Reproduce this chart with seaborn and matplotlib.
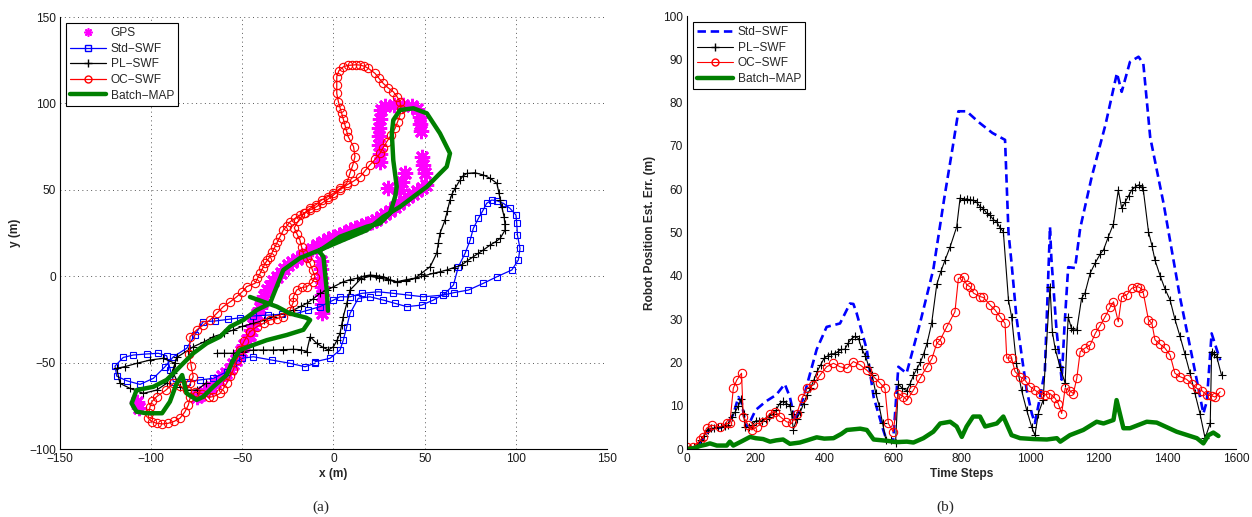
import matplotlib
matplotlib.use("Agg")
import matplotlib.pyplot as plt
from matplotlib.ticker import MultipleLocator
from matplotlib.lines import Line2D
import seaborn as sns

# ---------------- (a) trajectories ----------------
gps_x = [-75, -73, -71, -69, -67, -65, -63, -61, -59, -57, -55, -53.5, -52, -50.5, -49, -47.5, -46, -45, -44, -43,
         -42, -40.5, -39, -38, -36.6, -35, -33, -31, -29, -27, -25, -22.5, -20, -17.5, -15, -12, -9, -6, -3, 0,
         3, 6, 9, 12, 15, 18, 21, 23.5, 26, 28.5, 31, 33.5, 36, 38.5, 41, 43.5, 46, 48.5, 51,
         -7, -7, -7, -6.5, -6.5, -6.5, -6.5,
         26, 25.5, 25, 25, 25, 25.5, 25.5, 28, 33, 38, 43, 46, 47.5, 47.5, 48, 48.4, 49, 50, 39.2, 37.8, 36.5, 30,
         -108, -106.5]
gps_y = [-70, -68.5, -67, -65.5, -64, -62, -60, -58, -56, -53.5, -51, -48.5, -46, -43, -40, -37, -34, -31, -28, -25,
         -22, -18.5, -15, -11.5, -8, -5.5, -3, -0.5, 2, 4.2, 6.5, 8.3, 10, 11.5, 13, 15.5, 18, 19.8, 21.5, 22.8,
         24, 25.2, 26.5, 27.8, 29, 30.2, 31.5, 32.8, 34, 36, 38, 40, 42, 44, 46, 47.8, 49.5, 51.2, 53,
         9, 4, -1, -6, -11, -16, -21,
         96, 91, 86, 81, 76, 71, 66, 98.5, 99, 99, 98.5, 97, 92, 88, 84, 69, 64.5, 59.6, 59.5, 54.7, 49.9, 50.9,
         -73, -76]

std_x = [-10.1, -15.6, -23.8, -33.9, -44, -50, -55, -58.6, -65.9, -73.2, -80.5, -87.8, -89.5, -91.5, -96.1, -102.5,
         -109.8, -115.3, -119.8, -118.9, -113.4, -106.1, -98.8, -92.4, -87.8, -80.5, -76, -71.4, -65, -58, -51, -44,
         -36, -28, -20.2, -13.8, -7.4, 0, 3.6, 9.1, 15.5, 24.6, 32.8, 41.1, 49.3, 60.3, 66, 74, 82.2, 89.6, 97.8,
         101.4, 102.3, 100.9, 100.5, 100.1, 96.8, 93.2, 89.6, 86.8, 84, 81.9, 79.5, 76.7, 75, 72.2, 68.5, 65.8, 61.2,
         54.8, 48.4, 40.2, 33.8, 27.3, 20, 13.6, 9.1, 7.3, 5.4, 3.6, -1.9, -10.1]
std_y = [-50.4, -52.4, -50.4, -48.5, -46.6, -47.5, -50.4, -55.3, -59.1, -60, -61, -61, -54, -46, -44.6, -45,
         -45.6, -47, -52, -57.8, -60.5, -62.6, -59.1, -52.4, -46.6, -41.7, -34, -26.3, -25.9, -25, -24, -23,
         -22.5, -22, -21.5, -19.6, -17.6, -13.8, -11.9, -11.9, -9.9, -9, -9.9, -10.9, -11.9, -10.9, -9.5, -8, -4.1, -0.3, 3.6,
         9.4, 16.1, 23.8, 30.6, 35.4, 39.3, 42.2, 43.7, 44.1, 42.2, 37.9, 33.5, 27.7, 21, 13.3, 5.5, -5.1, -9.9,
         -13.8, -16.7, -17.6, -15.7, -13.8, -11.9, -12.8, -21.5, -29.2, -36.9, -42.7, -47.5, -49.5]

pl_x = [-70, -75, -80.5, -84.2, -87.8, -86.9, -93.3, -100.6, -107.9, -114.3, -118.9, -117.1, -111.6, -104.3, -97,
        -91.5, -88.5, -86, -80, -76.9, -71, -65.9, -60, -55, -50, -44, -38, -33, -27, -22, -18, -14.7, -11, -7.4,
        -3.5, 0, 5.4, 9, 12.8, 16.5, 20, 23.5, 27.3, 31, 34.7, 40, 44.7, 49.5, 54.8, 58.5, 62.1, 66, 70.3, 73.5,
        76.7, 79.5, 82.2, 85.9, 89, 91.4, 94.1, 94, 93.6, 92.3, 91.5, 90.8, 89.6, 85.9, 82.2, 77.6, 73.1, 71, 69.4,
        66.7, 65, 63.9, 62.5, 61.2, 58.4, 57.5, 56.6, 53, 48, 44.7, 40, 34.7, 30, 25, 20, 15, 9.1, 7.3, 5.4, 4.5,
        3.6, 2, 0, -2.8, -6, -9.2, -12.8, -14.7, -18, -22, -27.5, -33, -38.5, -44, -49.5, -55, -60, -64]
pl_y = [-62, -65.9, -65.9, -64, -56.2, -50.4, -47.5, -48.5, -50.4, -52.3, -53.3, -62, -64.9, -67.8, -65.9,
        -62, -56, -47, -43, -40.8, -38, -35, -33, -31.1, -29, -27.3, -25.5, -23.4, -21.5, -19.6, -17.5, -15.7, -13, -9.9,
        -8, -6.1, -3.2, -2, -1.2, 0, 0.7, 0.3, -0.3, -2, -3.2, -2, -1.2, 0.2, 1.7, 2.6, 3.6, 5, 6.5, 9,
        11.3, 13.3, 15.2, 18, 20, 21.9, 26.7, 30.5, 34.4, 40.2, 44, 48, 53.8, 56.7, 58.6, 59.9, 59.5, 58, 55.7,
        50.9, 47.5, 44.1, 38, 32.5, 24.8, 19, 13.3, 5.5, 1.5, -1.2, -2.5, -3.5, -2, -1, 0, -1.5, -8, -15.7, -23.4, -28,
        -33, -37, -40.8, -42.7, -41, -38.8, -35, -43.7, -42.5, -42.3, -42.5, -42.7, -42.7, -42.7, -43.6, -44.6, -44.6, -44.6]

oc_x = [-45.8, -42, -38, -34.8, -31, -27.5, -24, -22, -22, -20.2, -17, -14.7, -11.5, -10.1, -11.5, -12.9, -14.7,
        -16.5, -17.5, -18.4, -20, -21.5, -19.3, -16, -12.9, -9.5, -6.5, -3.2, 0, 3.6, 7.3, 9, 10.5, 11.8, 11, 8.1,
        7.2, 6.3, 5.4, 4.5, 3.6, 2.7, 1.8, 1.8, 1.8, 3, 5.4, 7.7, 10, 12.3, 14.6, 17, 19.1, 22.8, 25, 27.3, 30,
        32.8, 34.8, 36.5, 37, 36.5, 35.2, 33.8, 31.5, 29.2, 27.3, 25.5, 22.8, 20, 17.3, 14.6, 11, 7.3, 3.6, 0, -3.2,
        -6.5, -9.7, -12.9, -15.6, -18.4, -21.1, -23.8, -25.7, -27.5, -29.3, -30.7, -32.1, -33.5, -34.8, -36.2, -37.5,
        -38.9, -40.3, -41.7, -43, -47.6, -50, -53.1, -56.5, -60.4, -64, -67.7, -71.4, -75, -78.7, -79, -78, -76.9,
        -78.5, -80.5, -84, -87.8, -92, -97, -99.5, -100.6, -101.2, -101.6, -99.5, -97, -93.8, -90.6, -87.4, -84.2,
        -81.5, -79.6, -78.5, -76, -72, -68.5, -65.9, -62.2, -60.4, -58.6, -56.8, -55, -53.1, -51.3, -49, -45.8]
oc_y = [-32.1, -29.2, -27, -25.3, -24.5, -23.4, -20, -15, -11.9, -8, -6.5, -6.1, -3.5, -0.3, 3.5, 7.5, 10.5,
        13.3, 17, 21, 24.5, 28, 32, 36.5, 39.3, 41.5, 44.1, 46, 48, 50.8, 53.8, 59.5, 64, 69.2, 75, 80.7,
        84, 87.5, 91, 94.3, 97.5, 101, 105.8, 110.5, 115.5, 119, 121.2, 122, 122.2, 122.4, 122.2, 121.5, 120.3, 117.4, 114.5, 111.6, 109,
        106.8, 104, 101, 97, 93.3, 89.5, 85.6, 81.5, 77.8, 74.5, 71.1, 67.6, 64.4, 61, 57.6, 55, 52.8, 50, 47, 44.5,
        42.2, 40, 38.3, 36.5, 35.4, 33.5, 31.5, 29, 26.7, 22.9, 20, 17, 14, 11.3, 9.4, 7.4,
        4.5, 1.6, -1.2, -4.1, -6, -9, -11.9, -14.7, -17.6, -21.5, -25.3, -28.2, -31.1, -35, -45, -52, -58.2,
        -62, -65.9, -63.5, -62, -66, -69.7, -72.5, -75.5, -79, -82.2, -84.2, -85.1, -85.5, -85.1, -84, -82.2,
        -78.5, -74.5, -70, -67, -68, -70, -69.7, -67.8, -65, -62, -58, -54.3, -48.5, -42.7, -37.5, -32.1]

map_x = [-3, -3.7, -5.5, -8, 3.6, 18.3, 25.5, 31, 33.8, 34.7, 32.8, 32, 32.8, 36.5, 43.8, 51.2, 54.8, 58.4, 63.9,
         62.1, 58.4, 51.2, 43.8, 36.5, 27.3, 18.3, 5.4, -7.4, -18.4, -27.5, -34.8, -42.1, -49.4, -56.7, -62.2, -69.5,
         -76.9, -82.4, -86, -91.5, -98.8, -108, -110.7, -108, -102.5, -94, -89.7, -86, -83, -80.5, -75, -71.4, -66,
         -58.6, -55, -51.3, -44, -36.6, -25.6, -16.5, -12.8, -15, -24, -31, -45.8]
map_y = [-20, -8, 11.3, 14.5, 22.9, 28.7, 30.6, 36.4, 46, 51.8, 67.2, 82.7, 90.4, 96.2, 97.2, 94.3, 88.5, 82.7, 71.1,
         63.4, 59.5, 51.8, 46, 40.2, 34.4, 26.7, 21, 15.2, 10.5, 3.6, -15.7, -19.6, -25.3, -29.2, -35, -38.8,
         -44.6, -50.4, -54.3, -60, -64, -65.9, -73.6, -78.4, -79.3, -79.3, -72.6, -62, -57.2, -67.8, -71.6, -69.7, -64,
         -57.2, -48.5, -42.7, -39.8, -37, -34, -31, -25.3, -24, -21.5, -17.6, -12]

# ---------------- (b) error vs time ----------------
std_t = [0, 20, 40, 55, 70, 100, 120, 135, 150, 160, 172, 185, 200, 230, 260, 285, 300, 315, 340, 378, 407, 446,
         475, 485, 494, 524, 544, 572, 582, 601, 616, 640, 679, 718, 750, 775, 791, 815, 850, 890, 927, 937, 946, 960,
         976, 990, 1005, 1014, 1029, 1043, 1058, 1062, 1077, 1092, 1100, 1111, 1131, 1146, 1180, 1220, 1253, 1267,
         1291, 1316, 1330, 1350, 1389, 1437, 1476, 1505, 1515, 1529, 1554]
std_e = [0, 0.3, 1.5, 3.5, 4.5, 5, 6, 8, 12, 10.5, 5, 6.5, 9, 11, 12.5, 15, 12, 6.5, 12, 23, 28.2, 29,
         33.6, 33.5, 31.5, 23, 12, 4.4, 2, 2, 19, 17.5, 29, 41.5, 58, 70, 78, 78, 75.5, 73, 71.4, 50, 42.9, 30.6,
         21.3, 13.6, 8.2, 6, 12, 18, 51.3, 44, 27.5, 16, 28, 42, 41.8, 51, 63, 75, 86.8, 82.5,
         89.4, 90.6, 89, 72, 56.7, 35, 19.8, 8.2, 11, 26.7, 20.5]

pl_t = [0, 10, 20, 30, 40, 50, 60, 70, 80, 90, 100, 110, 120, 130, 140, 150, 158, 165, 170, 180, 190, 200, 210, 220,
        230, 240, 250, 260, 270, 280, 290, 300, 305, 310, 320, 330, 340, 350, 360, 370, 380, 390, 400, 410, 420, 430,
        440, 450, 460, 470, 480, 490, 500, 510, 520, 530, 540, 550, 560, 570, 580, 595, 608, 616, 628, 640, 650, 660,
        670, 680, 690, 700, 713, 728, 740, 752, 767, 786, 796, 806, 815, 825, 834, 844, 854, 864, 873, 883, 893, 903,
        913, 922, 937, 946, 960, 975, 990, 1005, 1014, 1024, 1038, 1058, 1065, 1073, 1087, 1102, 1111, 1120, 1126,
        1136, 1150, 1160, 1175, 1190, 1204, 1214, 1228, 1243, 1257, 1267, 1277, 1287, 1296, 1306, 1316, 1325, 1330,
        1345, 1355, 1364, 1379, 1393, 1408, 1422, 1437, 1451, 1466, 1480, 1495, 1510, 1525, 1529, 1537, 1544, 1558]
pl_e = [0, 0.3, 0.5, 0.8, 2, 3, 4.5, 4.8, 4.8, 5, 5, 5.2, 5.5, 7.5, 8.5, 10, 11.5, 8, 5, 5, 5.5, 6.5, 6.5, 6.5,
        7, 7.5, 8, 9, 10.5, 11, 10.5, 10, 8, 4.5, 7, 8.5, 10.5, 12.5, 14, 16, 18, 19.5, 21, 21.5, 22, 22,
        22.5, 23, 23, 24.5, 25.5, 26, 25.5, 23, 21.5, 19, 17, 13, 10, 6, 2, 2, 1.5, 15, 14, 13.5, 15, 17,
        18.5, 20, 22, 24.5, 29, 38, 41, 43.6, 46.7, 51.3, 58, 57.5, 57.8, 57.5, 57.5, 57, 56, 55.5, 54.5, 54, 53, 52.4,
        51, 50.2, 34.4, 30.6, 19.8, 13.6, 9, 5, 3.2, 8.2, 11.3, 37.5, 27, 23.2, 19, 15.2, 30.5, 28, 27.5,
        27.5, 34.8, 36, 40.6, 43, 45, 46, 49, 52, 59.8, 55.6, 57, 58.5, 59.8, 60.5, 61, 60.5, 59.8,
        50.2, 47, 43.6, 40, 37, 34.4, 30, 26, 22, 17.5, 13, 8.2, 2.5, 6, 22.5, 22, 21.3, 17]

oc_t = [0, 19, 38, 47, 57, 72, 96, 116, 125, 135, 145, 159, 164, 179, 189, 203, 222, 242, 257, 271, 290, 305, 320,
        335, 349, 368, 388, 407, 427, 446, 466, 485, 505, 524, 544, 563, 577, 587, 601, 616, 631, 641, 660, 679, 699,
        714, 728, 738, 757, 781, 791, 806, 815, 825, 835, 854, 864, 883, 898, 912, 927, 932, 946, 956, 971, 985,
        1000, 1014, 1029, 1043, 1058, 1073, 1082, 1092, 1102, 1117, 1126, 1136, 1146, 1160, 1175, 1190, 1204, 1219,
        1233, 1243, 1257, 1267, 1282, 1296, 1311, 1320, 1330, 1345, 1355, 1364, 1379, 1393, 1408, 1422, 1437, 1456,
        1471, 1486, 1500, 1515, 1529, 1539, 1554]
oc_e = [0.5, 0.5, 2, 2.8, 4.8, 5.5, 5.1, 5.9, 5.9, 14, 15.9, 17.5, 7.5, 5.5, 4.4, 5.1, 6.3, 8.2, 8.6, 7.5, 6.3, 5.9, 8.2,
        11.7, 14, 14.8, 17.1, 19, 19.8, 19, 18.6, 20.2, 19.4, 18.2, 16.7, 15.2, 14, 5.9, 4, 12.8, 12.1, 11.3, 13.6, 16.3, 19,
        20.9, 24.4, 25.2, 28.2, 31.7, 39.4, 39.8, 37.9, 37.5, 36, 35.2, 35, 33.3, 32.1, 30.6, 29, 21, 21, 17.9, 16.7, 15.9,
        14.4, 13.6, 12.8, 12.5, 12.8, 11.7, 10.5, 8.2, 14, 13.4, 12.8, 16.3, 22.5, 23.3, 24, 26.7, 28.5, 30.6,
        32.7, 34, 29.4, 35.2, 35.6, 37.1, 37.5, 37.3, 36, 29.8, 29, 25.2, 24.2, 23.3, 21.7, 17.5, 16.7, 16.1,
        15, 14, 13.5, 12.5, 12.3, 12, 13.2]

map_t = [0, 20, 38, 55, 67, 87, 116, 125, 135, 160, 184, 200, 222, 242, 260, 280, 300, 329, 350, 378, 400, 427, 450,
         466, 505, 524, 544, 583, 610, 641, 660, 689, 718, 738, 767, 786, 801, 815, 834, 854, 869, 903, 922, 946, 971,
         1010, 1049, 1078, 1088, 1116, 1155, 1194, 1214, 1243, 1252, 1272, 1291, 1340, 1369, 1427, 1486, 1505, 1520,
         1534, 1549]
map_e = [0, 0.2, 0.7, 1, 1.3, 0.8, 0.8, 1.7, 0.8, 1.8, 2.8, 2.5, 2.3, 1.7, 2, 2.2, 1.2, 1.5, 2, 2.7, 2.4, 2.5, 3.5,
         4.4, 4.7, 4.4, 2.2, 1.9, 1.6, 1.7, 1.5, 2.5, 4, 5.9, 6.3, 5.2, 2.8, 5.2, 7.5, 7.5, 5.2, 5.9, 7.5, 3.2, 2.5,
         2.3, 2.2, 2.5, 1.7, 3.2, 4.4, 6.3, 5.9, 6.7, 11.3, 4.8, 4.8, 6.3, 6.1, 4, 2.5, 1.3, 3.2,
         3.8, 3]

labels_a = ["GPS", "Std\u2212SWF", "PL\u2212SWF", "OC\u2212SWF", "Batch\u2212MAP"]
labels_b = ["Std\u2212SWF", "PL\u2212SWF", "OC\u2212SWF", "Batch\u2212MAP"]

# ---------------- style ----------------
sns.set_style("white")
plt.rcParams["font.family"] = ["Liberation Sans", "DejaVu Sans"]
FS = 8.6
plt.rcParams["font.size"] = FS
plt.rcParams["xtick.direction"] = "in"
plt.rcParams["ytick.direction"] = "in"

BLUE = "#0000ff"
RED = "#ff0000"
GREEN = "#007f00"
MAG = "#ff00ff"
ASTER = (8, 2, 0)

fig = plt.figure(figsize=(12.52, 5.17), dpi=100)
ax1 = fig.add_axes([0.0479, 0.1315, 0.4369, 0.8355])
ax2 = fig.add_axes([0.5487, 0.1315, 0.4385, 0.8375])

# ----- panel (a) -----
sns.lineplot(x=gps_x, y=gps_y, ax=ax1, sort=False, estimator=None, linestyle="none", marker=ASTER,
             markersize=11, markeredgecolor=MAG, markerfacecolor=MAG, markeredgewidth=2.0, color=MAG,
             label=labels_a[0], zorder=2, legend=False)
sns.lineplot(x=std_x, y=std_y, ax=ax1, sort=False, estimator=None, color=BLUE, lw=0.9, marker="s",
             markersize=4.5, markerfacecolor="none", markeredgecolor=BLUE, markeredgewidth=0.8,
             label=labels_a[1], zorder=3, legend=False)
sns.lineplot(x=pl_x, y=pl_y, ax=ax1, sort=False, estimator=None, color="black", lw=0.9, marker="+",
             markersize=6, markeredgecolor="black", markeredgewidth=0.8,
             label=labels_a[2], zorder=3, legend=False)
sns.lineplot(x=oc_x, y=oc_y, ax=ax1, sort=False, estimator=None, color=RED, lw=0.9, marker="o",
             markersize=6, markerfacecolor="none", markeredgecolor=RED, markeredgewidth=0.8,
             label=labels_a[3], zorder=4, legend=False)
sns.lineplot(x=map_x, y=map_y, ax=ax1, sort=False, estimator=None, color=GREEN, lw=3.2,
             label=labels_a[4], zorder=5, legend=False)

ax1.set_xlim(-150, 150)
ax1.set_ylim(-100, 150)
ax1.xaxis.set_major_locator(MultipleLocator(50))
ax1.yaxis.set_major_locator(MultipleLocator(50))
ax1.xaxis.set_minor_locator(MultipleLocator(10))
ax1.yaxis.set_minor_locator(MultipleLocator(10))
ax1.grid(True, which="major", color="0.35", linestyle=(0, (1, 3.5)), linewidth=0.7)
ax1.set_xlabel("x (m)", fontweight="bold", fontsize=FS, labelpad=2)
ax1.set_ylabel("y (m)", fontweight="bold", fontsize=FS, labelpad=6)

h_a = [
    Line2D([], [], linestyle="none", marker=ASTER, markersize=6, mec=MAG, mew=1.2, color=MAG),
    Line2D([], [], color=BLUE, lw=0.9, marker="s", markersize=4.5, mfc="none", mec=BLUE),
    Line2D([], [], color="black", lw=0.9, marker="+", markersize=6, mec="black"),
    Line2D([], [], color=RED, lw=0.9, marker="o", markersize=5, mfc="none", mec=RED),
    Line2D([], [], color=GREEN, lw=3.2),
]
leg1 = ax1.legend(h_a, labels_a, loc="upper left", frameon=True, fancybox=False, framealpha=1,
                  edgecolor="black", borderaxespad=0.5, handlelength=3.0, handletextpad=0.4,
                  labelspacing=0.3, borderpad=0.35, fontsize=FS)
leg1.get_frame().set_linewidth(0.8)

# ----- panel (b) -----
sns.lineplot(x=std_t, y=std_e, ax=ax2, sort=False, estimator=None, color=BLUE, lw=1.9,
             dashes=False, label=labels_b[0], legend=False)
ax2.lines[-1].set_dashes((3.2, 1.8))
sns.lineplot(x=pl_t, y=pl_e, ax=ax2, sort=False, estimator=None, color="black", lw=0.8, marker="+",
             markersize=6, markeredgecolor="black", markeredgewidth=0.8, label=labels_b[1], legend=False)
sns.lineplot(x=oc_t, y=oc_e, ax=ax2, sort=False, estimator=None, color=RED, lw=0.8, marker="o",
             markersize=6, markerfacecolor="none", markeredgecolor=RED, markeredgewidth=0.8,
             label=labels_b[2], legend=False)
sns.lineplot(x=map_t, y=map_e, ax=ax2, sort=False, estimator=None, color=GREEN, lw=3.2,
             label=labels_b[3], legend=False)

ax2.set_xlim(0, 1600)
ax2.set_ylim(0, 100)
ax2.xaxis.set_major_locator(MultipleLocator(200))
ax2.yaxis.set_major_locator(MultipleLocator(10))
ax2.set_xlabel("Time Steps", fontweight="bold", fontsize=FS, labelpad=2)
ax2.set_ylabel("Robot Position Est. Err. (m)", fontweight="bold", fontsize=FS, labelpad=5)

h_b = [
    Line2D([], [], color=BLUE, lw=1.9, dashes=(3.2, 1.8)),
    Line2D([], [], color="black", lw=0.8, marker="+", markersize=6, mec="black"),
    Line2D([], [], color=RED, lw=0.8, marker="o", markersize=5, mfc="none", mec=RED),
    Line2D([], [], color=GREEN, lw=3.2),
]
leg2 = ax2.legend(h_b, labels_b, loc="upper left", frameon=True, fancybox=False, framealpha=1,
                  edgecolor="black", borderaxespad=0.5, handlelength=3.0, handletextpad=0.4,
                  labelspacing=0.3, borderpad=0.35, fontsize=FS)
leg2.get_frame().set_linewidth(0.8)

for ax in (ax1, ax2):
    for s in ("top", "right"):
        ax.spines[s].set_visible(False)
    for s in ("left", "bottom"):
        ax.spines[s].set_color("black")
        ax.spines[s].set_linewidth(0.8)
    ax.tick_params(which="major", length=4, width=0.6, colors="0.15", labelsize=FS, pad=3)
    ax.tick_params(which="minor", length=2, width=0.5, colors="0.15")
    ax.tick_params(labelcolor="0.1")

fig.text(321 / 1252, 1 - 507 / 517, "(a)", family=["Liberation Serif"], fontsize=11, ha="center", va="center")
fig.text(945 / 1252, 1 - 507 / 517, "(b)", family=["Liberation Serif"], fontsize=11, ha="center", va="center")

fig.savefig("out.png", dpi=100)
